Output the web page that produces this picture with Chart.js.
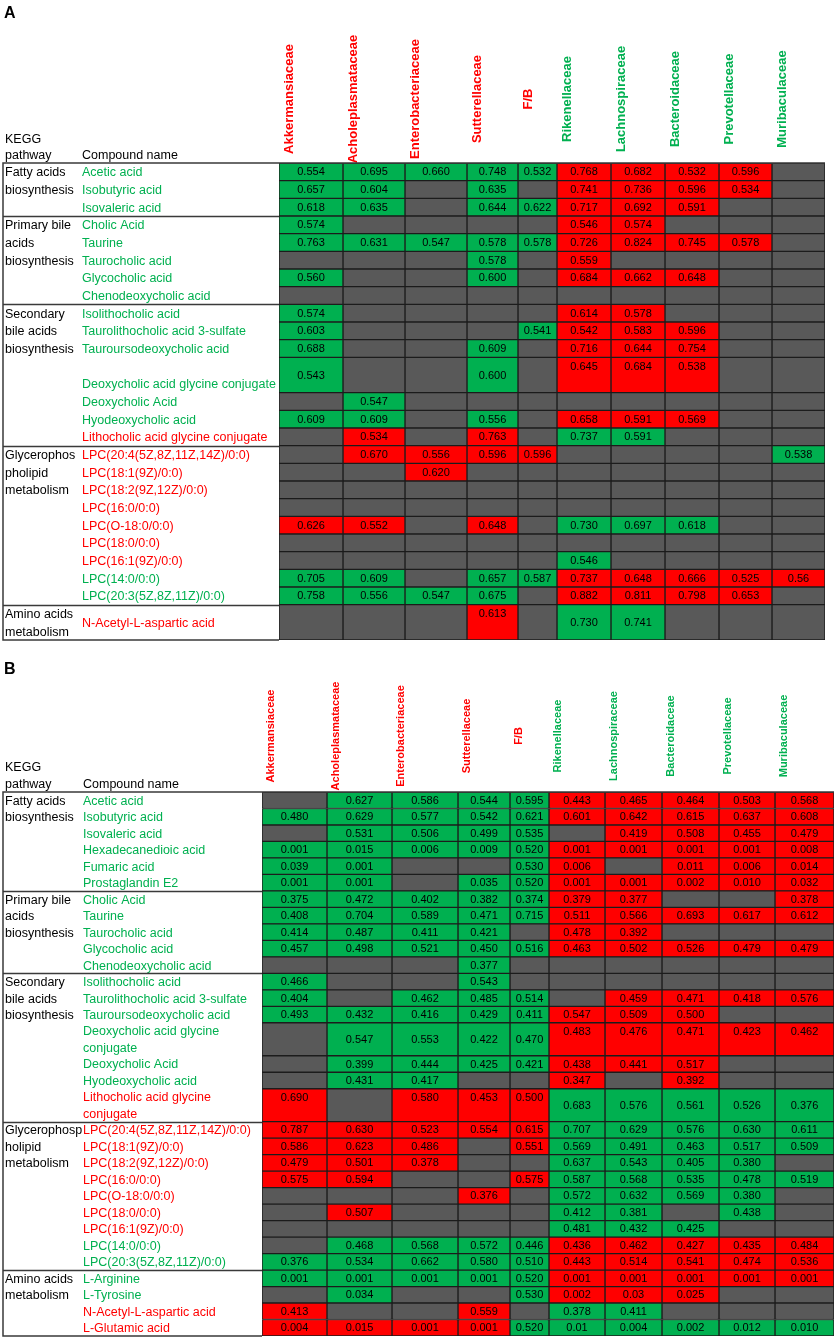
<!DOCTYPE html>
<html>
<head>
<meta charset="utf-8">
<script src="https://cdn.jsdelivr.net/npm/chart.js@4.4.1/dist/chart.umd.min.js"></script>
<style>
  html, body { margin: 0; padding: 0; background: #fff; }
  body { width: 837px; height: 1339px; position: relative; overflow: hidden; }
  canvas { position: absolute; left: 0; }
</style>
</head>
<body>
<canvas id="panelA" width="837" height="648" style="top:0"></canvas>
<canvas id="panelB" width="837" height="691" style="top:648px"></canvas>
<script>
/* ── Data ─────────────────────────────────────────────── */
const families = ['Akkermansiaceae', 'Acholeplasmataceae', 'Enterobacteriaceae', 'Sutterellaceae', 'F/B',
                  'Rikenellaceae', 'Lachnospiraceae', 'Bacteroidaceae', 'Prevotellaceae', 'Muribaculaceae'];
const familyTone = 'RRRRRGGGGG';

/* Panel A */
const pathwaysA     = [['Fatty acids', 'biosynthesis'], ['Primary bile', 'acids', 'biosynthesis'],
                       ['Secondary', 'bile acids', 'biosynthesis'], ['Glycerophos', 'pholipid', 'metabolism'],
                       ['Amino acids', 'metabolism']];
const pathwayRowsA  = [3, 5, 7, 9, 1];
const compoundsA    = ['Acetic acid', 'Isobutyric acid', 'Isovaleric acid',
                       'Cholic Acid', 'Taurine', 'Taurocholic acid', 'Glycocholic acid', 'Chenodeoxycholic acid',
                       'Isolithocholic acid', 'Taurolithocholic acid 3-sulfate', 'Tauroursodeoxycholic acid',
                       ['', 'Deoxycholic acid glycine conjugate'], 'Deoxycholic Acid', 'Hyodeoxycholic acid',
                       'Lithocholic acid glycine conjugate',
                       'LPC(20:4(5Z,8Z,11Z,14Z)/0:0)', 'LPC(18:1(9Z)/0:0)', 'LPC(18:2(9Z,12Z)/0:0)', 'LPC(16:0/0:0)',
                       'LPC(O-18:0/0:0)', 'LPC(18:0/0:0)', 'LPC(16:1(9Z)/0:0)', 'LPC(14:0/0:0)', 'LPC(20:3(5Z,8Z,11Z)/0:0)',
                       'N-Acetyl-L-aspartic acid'];
const compoundToneA = 'GGGGGGGGGGGGGGRRRRRRRRGGR';
const rowSpanA      = [1,1,1, 1,1,1,1,1, 1,1,1,2,1,1,1, 1,1,1,1,1,1,1,1,1, 2];
const valuesA = [
  ['0.554','0.695','0.660','0.748','0.532','0.768','0.682','0.532','0.596',null],
  ['0.657','0.604',null,'0.635',null,'0.741','0.736','0.596','0.534',null],
  ['0.618','0.635',null,'0.644','0.622','0.717','0.692','0.591',null,null],
  ['0.574',null,null,null,null,'0.546','0.574',null,null,null],
  ['0.763','0.631','0.547','0.578','0.578','0.726','0.824','0.745','0.578',null],
  [null,null,null,'0.578',null,'0.559',null,null,null,null],
  ['0.560',null,null,'0.600',null,'0.684','0.662','0.648',null,null],
  [null,null,null,null,null,null,null,null,null,null],
  ['0.574',null,null,null,null,'0.614','0.578',null,null,null],
  ['0.603',null,null,null,'0.541','0.542','0.583','0.596',null,null],
  ['0.688',null,null,'0.609',null,'0.716','0.644','0.754',null,null],
  ['0.543',null,null,'0.600',null,'0.645','0.684','0.538',null,null],
  [null,'0.547',null,null,null,null,null,null,null,null],
  ['0.609','0.609',null,'0.556',null,'0.658','0.591','0.569',null,null],
  [null,'0.534',null,'0.763',null,'0.737','0.591',null,null,null],
  [null,'0.670','0.556','0.596','0.596',null,null,null,null,'0.538'],
  [null,null,'0.620',null,null,null,null,null,null,null],
  [null,null,null,null,null,null,null,null,null,null],
  [null,null,null,null,null,null,null,null,null,null],
  ['0.626','0.552',null,'0.648',null,'0.730','0.697','0.618',null,null],
  [null,null,null,null,null,null,null,null,null,null],
  [null,null,null,null,null,'0.546',null,null,null,null],
  ['0.705','0.609',null,'0.657','0.587','0.737','0.648','0.666','0.525','0.56'],
  ['0.758','0.556','0.547','0.675',null,'0.882','0.811','0.798','0.653',null],
  [null,null,null,'0.613',null,'0.730','0.741',null,null,null],
];
const cellToneA = [
  'GGGGGRRRR.', 'GG.G.RRRR.', 'GG.GGRRR..',
  'G....RR...', 'GGGGGRRRR.', '...G.R....', 'G..G.RRR..', '..........',
  'G....RR...', 'G...GRRR..', 'G..G.RRR..', 'G..G.RRR..', '.G........', 'GG.G.RRR..', '.R.R.GG...',
  '.RRRR....G', '..R.......', '..........', '..........', 'RR.R.GGG..', '..........', '.....G....',
  'GG.GGRRRRR', 'GGGG.RRRR.',
  '...R.GG...',
];

/* Panel B */
const pathwaysB     = [['Fatty acids', 'biosynthesis'], ['Primary bile', 'acids', 'biosynthesis'],
                       ['Secondary', 'bile acids', 'biosynthesis'], ['Glycerophosp', 'holipid', 'metabolism'],
                       ['Amino acids', 'metabolism']];
const pathwayRowsB  = [6, 5, 7, 9, 4];
const compoundsB    = ['Acetic acid', 'Isobutyric acid', 'Isovaleric acid', 'Hexadecanedioic acid', 'Fumaric acid', 'Prostaglandin E2',
                       'Cholic Acid', 'Taurine', 'Taurocholic acid', 'Glycocholic acid', 'Chenodeoxycholic acid',
                       'Isolithocholic acid', 'Taurolithocholic acid 3-sulfate', 'Tauroursodeoxycholic acid',
                       ['Deoxycholic acid glycine', 'conjugate'], 'Deoxycholic Acid', 'Hyodeoxycholic acid',
                       ['Lithocholic acid glycine', 'conjugate'],
                       'LPC(20:4(5Z,8Z,11Z,14Z)/0:0)', 'LPC(18:1(9Z)/0:0)', 'LPC(18:2(9Z,12Z)/0:0)', 'LPC(16:0/0:0)',
                       'LPC(O-18:0/0:0)', 'LPC(18:0/0:0)', 'LPC(16:1(9Z)/0:0)', 'LPC(14:0/0:0)', 'LPC(20:3(5Z,8Z,11Z)/0:0)',
                       'L-Arginine', 'L-Tyrosine', 'N-Acetyl-L-aspartic acid', 'L-Glutamic acid'];
const compoundToneB = 'GGGGGGGGGGGGGGGGGRRRRRRRRGGGGRR';
const rowSpanB      = [1,1,1,1,1,1, 1,1,1,1,1, 1,1,1,2,1,1,2, 1,1,1,1,1,1,1,1,1, 1,1,1,1];
const valuesB = [
  [null,'0.627','0.586','0.544','0.595','0.443','0.465','0.464','0.503','0.568'],
  ['0.480','0.629','0.577','0.542','0.621','0.601','0.642','0.615','0.637','0.608'],
  [null,'0.531','0.506','0.499','0.535',null,'0.419','0.508','0.455','0.479'],
  ['0.001','0.015','0.006','0.009','0.520','0.001','0.001','0.001','0.001','0.008'],
  ['0.039','0.001',null,null,'0.530','0.006',null,'0.011','0.006','0.014'],
  ['0.001','0.001',null,'0.035','0.520','0.001','0.001','0.002','0.010','0.032'],
  ['0.375','0.472','0.402','0.382','0.374','0.379','0.377',null,null,'0.378'],
  ['0.408','0.704','0.589','0.471','0.715','0.511','0.566','0.693','0.617','0.612'],
  ['0.414','0.487','0.411','0.421',null,'0.478','0.392',null,null,null],
  ['0.457','0.498','0.521','0.450','0.516','0.463','0.502','0.526','0.479','0.479'],
  [null,null,null,'0.377',null,null,null,null,null,null],
  ['0.466',null,null,'0.543',null,null,null,null,null,null],
  ['0.404',null,'0.462','0.485','0.514',null,'0.459','0.471','0.418','0.576'],
  ['0.493','0.432','0.416','0.429','0.411','0.547','0.509','0.500',null,null],
  [null,'0.547','0.553','0.422','0.470','0.483','0.476','0.471','0.423','0.462'],
  [null,'0.399','0.444','0.425','0.421','0.438','0.441','0.517',null,null],
  [null,'0.431','0.417',null,null,'0.347',null,'0.392',null,null],
  ['0.690',null,'0.580','0.453','0.500','0.683','0.576','0.561','0.526','0.376'],
  ['0.787','0.630','0.523','0.554','0.615','0.707','0.629','0.576','0.630','0.611'],
  ['0.586','0.623','0.486',null,'0.551','0.569','0.491','0.463','0.517','0.509'],
  ['0.479','0.501','0.378',null,null,'0.637','0.543','0.405','0.380',null],
  ['0.575','0.594',null,null,'0.575','0.587','0.568','0.535','0.478','0.519'],
  [null,null,null,'0.376',null,'0.572','0.632','0.569','0.380',null],
  [null,'0.507',null,null,null,'0.412','0.381',null,'0.438',null],
  [null,null,null,null,null,'0.481','0.432','0.425',null,null],
  [null,'0.468','0.568','0.572','0.446','0.436','0.462','0.427','0.435','0.484'],
  ['0.376','0.534','0.662','0.580','0.510','0.443','0.514','0.541','0.474','0.536'],
  ['0.001','0.001','0.001','0.001','0.520','0.001','0.001','0.001','0.001','0.001'],
  [null,'0.034',null,null,'0.530','0.002','0.03','0.025',null,null],
  ['0.413',null,null,'0.559',null,'0.378','0.411',null,null,null],
  ['0.004','0.015','0.001','0.001','0.520','0.01','0.004','0.002','0.012','0.010'],
];
const cellToneB = [
  '.GGGGRRRRR', 'GGGGGRRRRR', '.GGGG.RRRR', 'GGGGGRRRRR', 'GG..GR.RRR', 'GG.GGRRRRR',
  'GGGGGRR..R', 'GGGGGRRRRR', 'GGGG.RR...', 'GGGGGRRRRR', '...G......',
  'G..G......', 'G.GGG.RRRR', 'GGGGGRRR..', '.GGGGRRRRR', '.GGGGRRR..', '.GG..R.R..', 'R.RRRGGGGG',
  'RRRRRGGGGG', 'RRR.RGGGGG', 'RRR..GGGG.', 'RR..RGGGGG', '...R.GGGG.', '.R...GG.G.', '.....GGG..',
  '.GGGGRRRRR', 'GGGGGRRRRR',
  'GGGGGRRRRR', '.G..GRRR..', 'R..R.GG...', 'RRRRGGGGGG',
];

/* ── Styling ──────────────────────────────────────────── */
const GREEN = '#00B050';
const RED   = '#FF0000';
const GRAY  = '#595959';
const FONT  = '"Liberation Sans", Arial, sans-serif';
const toneColor = t => t === 'G' ? GREEN : t === 'R' ? RED : GRAY;

/* Panel geometry, in canvas pixels */
const layoutA = {
  letter: 'A', letterY: 14, height: 648,
  tableTop: 163, tableBottom: 640, boxLeft: 3,
  colEdges: [279, 343, 405, 467, 518, 557, 611, 665, 719, 772, 825],
  headerMidY: 99, headerFont: 'bold 13px ' + FONT, headerOffset: 10,
  keggY: 140, pathwayY: 156, compoundX: 82,
};
const layoutB = {
  letter: 'B', letterY: 22, height: 691,
  tableTop: 144, tableBottom: 688, boxLeft: 3,
  colEdges: [262, 327, 392, 458, 510, 549, 605, 662, 719, 775, 834],
  headerMidY: 88, headerFont: 'bold 11px ' + FONT, headerOffset: 9,
  keggY: 120, pathwayY: 137, compoundX: 83,
};

/* ─────────────────────────────────────────────────────────
   buildPanel — one floating-bar chart per panel, one dataset
   per microbe family, each bar spanning its row in row units
   ───────────────────────────────────────────────────────── */
function buildPanel(canvasId, L, d) {
  const starts = [];
  let acc = 0;
  d.rowSpan.forEach(s => { starts.push(acc); acc += s; });
  const totalUnits = acc;
  const E = L.colEdges;

  const datasets = families.map((fam, c) => ({
    label: fam,
    data: d.values.map((row, r) => ({ x: (E[c] + E[c + 1]) / 2, y: [starts[r], starts[r] + d.rowSpan[r]] })),
    backgroundColor: d.tone.map(t => toneColor(t[c])),
    borderColor: '#1c1c1c',
    borderWidth: 1,
    borderSkipped: false,
    barThickness: E[c + 1] - E[c],
    grouped: false,
  }));

  const tablePlugin = {
    id: 'tableText',
    afterDatasetsDraw(chart) {
      const ctx = chart.ctx;
      const ys = chart.scales.y;
      const unitPx = ys.getPixelForValue(1) - ys.getPixelForValue(0);
      ctx.save();

      // cell values
      ctx.font = '11px ' + FONT;
      ctx.fillStyle = '#000';
      ctx.textAlign = 'center';
      ctx.textBaseline = 'middle';
      chart.data.datasets.forEach((ds, c) => {
        chart.getDatasetMeta(c).data.forEach((bar, r) => {
          const v = d.values[r][c];
          if (!v) return;
          const p = bar.getProps(['x', 'y', 'base'], true);
          const top = Math.min(p.y, p.base), bot = Math.max(p.y, p.base);
          let ty = (top + bot) / 2;
          if (d.rowSpan[r] === 2 && d.tone[r][c] === 'R') ty = top + unitPx / 2;
          ctx.fillText(v, p.x, ty + 0.5);
        });
      });

      // panel letter and column headers
      ctx.textAlign = 'left';
      ctx.fillStyle = '#000';
      ctx.font = 'bold 16px ' + FONT;
      ctx.fillText(L.letter, 4, L.letterY);
      ctx.font = '12.5px ' + FONT;
      ctx.fillText('KEGG', 5, L.keggY);
      ctx.fillText('pathway', 5, L.pathwayY);
      ctx.fillText('Compound name', L.compoundX, L.pathwayY);

      ctx.font = L.headerFont;
      ctx.textAlign = 'center';
      families.forEach((fam, c) => {
        ctx.save();
        ctx.translate(E[c] + L.headerOffset, L.headerMidY);
        ctx.rotate(-Math.PI / 2);
        ctx.fillStyle = toneColor(familyTone[c]);
        ctx.fillText(fam, 0, 0);
        ctx.restore();
      });

      // compound names
      ctx.textAlign = 'left';
      ctx.font = '12.5px ' + FONT;
      d.compounds.forEach((name, r) => {
        ctx.fillStyle = toneColor(d.compoundTone[r]);
        if (Array.isArray(name)) {
          name.forEach((line, k) => ctx.fillText(line, L.compoundX, ys.getPixelForValue(starts[r] + k + 0.5) + 1));
        } else {
          ctx.fillText(name, L.compoundX, ys.getPixelForValue(starts[r] + d.rowSpan[r] / 2) + 1);
        }
      });

      // pathway names + box lines
      ctx.fillStyle = '#000';
      ctx.strokeStyle = '#3a3a3a';
      ctx.lineWidth = 1.5;
      let row = 0;
      const yTop = ys.getPixelForValue(0);
      const yBot = ys.getPixelForValue(totalUnits);
      d.pathways.forEach((lines, p) => {
        const u0 = starts[row];
        lines.forEach((line, k) => ctx.fillText(line, 5, ys.getPixelForValue(u0 + k + 0.5) + 1));
        if (p > 0) {
          const yy = Math.round(ys.getPixelForValue(u0)) + 0.5;
          ctx.beginPath(); ctx.moveTo(L.boxLeft, yy); ctx.lineTo(E[0], yy); ctx.stroke();
        }
        row += d.pathwayRows[p];
      });
      ctx.beginPath();
      ctx.moveTo(E[E.length - 1], yTop);
      ctx.lineTo(L.boxLeft, yTop);
      ctx.lineTo(L.boxLeft, yBot);
      ctx.lineTo(E[0], yBot);
      ctx.stroke();
      ctx.restore();
    },
  };

  return new Chart(document.getElementById(canvasId), {
    type: 'bar',
    data: { datasets },
    options: {
      responsive: false,
      animation: false,
      devicePixelRatio: 1,
      layout: {
        padding: { left: E[0], right: 837 - E[E.length - 1], top: L.tableTop, bottom: L.height - L.tableBottom },
      },
      plugins: { legend: { display: false }, tooltip: { enabled: false } },
      scales: {
        x: { type: 'linear', offset: false, min: E[0], max: E[E.length - 1], display: false },
        y: { type: 'linear', min: 0, max: totalUnits, reverse: true, display: false },
      },
    },
    plugins: [tablePlugin],
  });
}

buildPanel('panelA', layoutA, {
  pathways: pathwaysA, pathwayRows: pathwayRowsA, compounds: compoundsA, compoundTone: compoundToneA,
  rowSpan: rowSpanA, values: valuesA, tone: cellToneA,
});
buildPanel('panelB', layoutB, {
  pathways: pathwaysB, pathwayRows: pathwayRowsB, compounds: compoundsB, compoundTone: compoundToneB,
  rowSpan: rowSpanB, values: valuesB, tone: cellToneB,
});
</script>
</body>
</html>
